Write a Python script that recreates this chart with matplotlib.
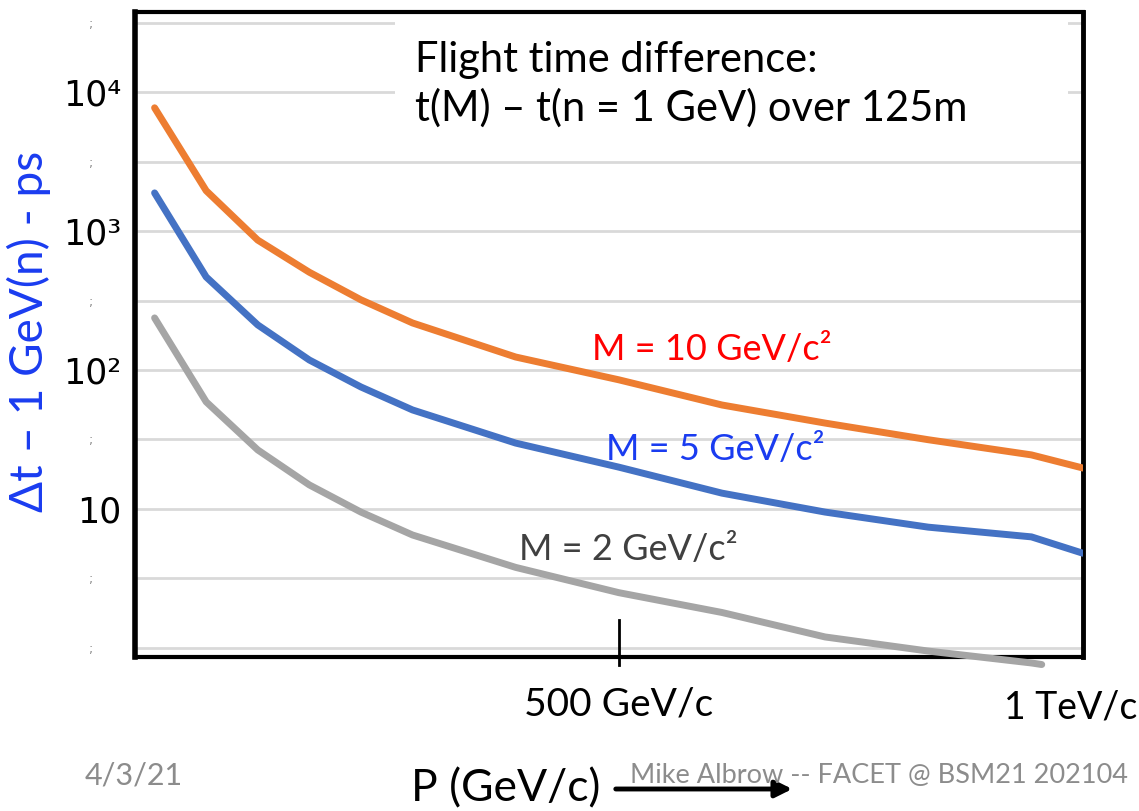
import matplotlib.pyplot as plt
from matplotlib.patches import Rectangle, FancyArrowPatch

# momentum points (GeV/c) and flight time differences (ps)
p = [50, 100, 150, 200, 250, 300, 400, 500, 600, 700, 800, 900, 950]
dt_m10 = [7700, 1950, 860, 505, 320, 218, 124, 85, 56, 41.5, 31.5, 24.5, 19.7]
dt_m5 = [1880, 467, 211, 118, 75.5, 51.6, 29.8, 20.0, 13.0, 9.5, 7.4, 6.3, 4.8]
p_m2 = [50, 100, 150, 200, 250, 300, 400, 500, 600, 700, 800, 900, 910]
dt_m2 = [237, 59, 26.6, 14.9, 9.5, 6.5, 3.8, 2.5, 1.8, 1.2, 0.95, 0.78, 0.76]

y_major = [10, 100, 1000, 10000]
y_major_labels = ['10', '10²', '10³', '10⁴']
y_minor = [1, 10 ** 0.5, 10 ** 1.5, 10 ** 2.5, 10 ** 3.5, 10 ** 4.5]
x_ticks = [500]
x_tick_labels = ['500 GeV/c']

W, H = 1139, 811
fig = plt.figure(figsize=(W / 100, H / 100), dpi=100)
ax = fig.add_axes([135 / W, 1 - 657 / H, (1083 - 135) / W, (657 - 12) / H])

ax.set_yscale('log')
ax.set_xlim(31, 950)
ax.set_ylim(0.861, 37650)

ax.set_yticks(y_major)
ax.set_yticklabels(y_major_labels, fontsize=25, family='DejaVu Sans')
ax.set_yticks(y_minor, minor=True)
ax.set_yticklabels([';'] * len(y_minor), minor=True, fontsize=9, color='#888888')
ax.tick_params(axis='y', which='major', length=0, pad=10)
ax.tick_params(axis='y', which='minor', length=0, pad=30)
ax.grid(which='both', axis='y', color='#d9d9d9', lw=2)
ax.set_axisbelow(True)

ax.set_xticks(x_ticks)
ax.set_xticklabels(x_tick_labels, fontsize=28, family='Lato')
ax.tick_params(axis='x', length=0, pad=21)
ax.axvline(500, ymin=-0.013, ymax=0.057, color='black', lw=2, clip_on=False)

for s in ax.spines.values():
    s.set_linewidth(3)
ax.spines['left'].set_linewidth(4)
ax.spines['right'].set_linewidth(3.5)

# white box behind the title, hides the upper gridlines
ax.add_patch(Rectangle(((395 - 135) / 948, (657 - 130) / 645), (1068 - 395) / 948,
                       (130 - 15) / 645, transform=ax.transAxes, facecolor='white',
                       edgecolor='none', zorder=1.5))

ax.plot(p, dt_m10, color='#ed7d31', lw=5, solid_capstyle='round', zorder=3)
ax.plot(p, dt_m5, color='#4472c4', lw=5, solid_capstyle='round', zorder=3)
ax.plot(p_m2, dt_m2, color='#a5a5a5', lw=5, solid_capstyle='round', zorder=3, clip_on=False)

fig.text(415 / W, 1 - 41 / H, 'Flight time difference:\nt(M) – t(n = 1 GeV) over 125m',
         fontsize=30, family='Lato', va='top', ha='left', linespacing=1.3)

fig.text(712 / W, 1 - 350 / H, 'M = 10 GeV/c²', fontsize=26, family='Lato',
         color='#ff0000', ha='center', va='center')
fig.text(715 / W, 1 - 450 / H, 'M = 5 GeV/c²', fontsize=26, family='Lato',
         color='#1a3cf0', ha='center', va='center')
fig.text(628 / W, 1 - 550 / H, 'M = 2 GeV/c²', fontsize=26, family='Lato',
         color='#404040', ha='center', va='center')

fig.text(29 / W, 1 - 331 / H, 'Δt – 1 GeV(n) - ps', fontsize=33, family='Lato',
         color='#1a3cf0', rotation=90, ha='center', va='center')

fig.text(1137 / W, 1 - 707 / H, '1 TeV/c', fontsize=27, family='Lato',
         ha='right', va='center')

fig.text(85 / W, 1 - 776 / H, '4/3/21', fontsize=22, family='Lato',
         color='#8c8c8c', ha='left', va='center')
fig.text(630 / W, 1 - 776 / H, 'Mike Albrow -- FACET @ BSM21 202104', fontsize=19.5,
         family='Lato', color='#8c8c8c', ha='left', va='center')
fig.text(411 / W, 1 - 789 / H, 'P (GeV/c)', fontsize=32, family='Lato',
         ha='left', va='center')
fig.add_artist(FancyArrowPatch(
    (613 / W, 1 - 789 / H), (795 / W, 1 - 789 / H), transform=fig.transFigure,
    arrowstyle='-|>', mutation_scale=25, lw=3.5, color='black'))

fig.savefig('out.png', dpi=100)
